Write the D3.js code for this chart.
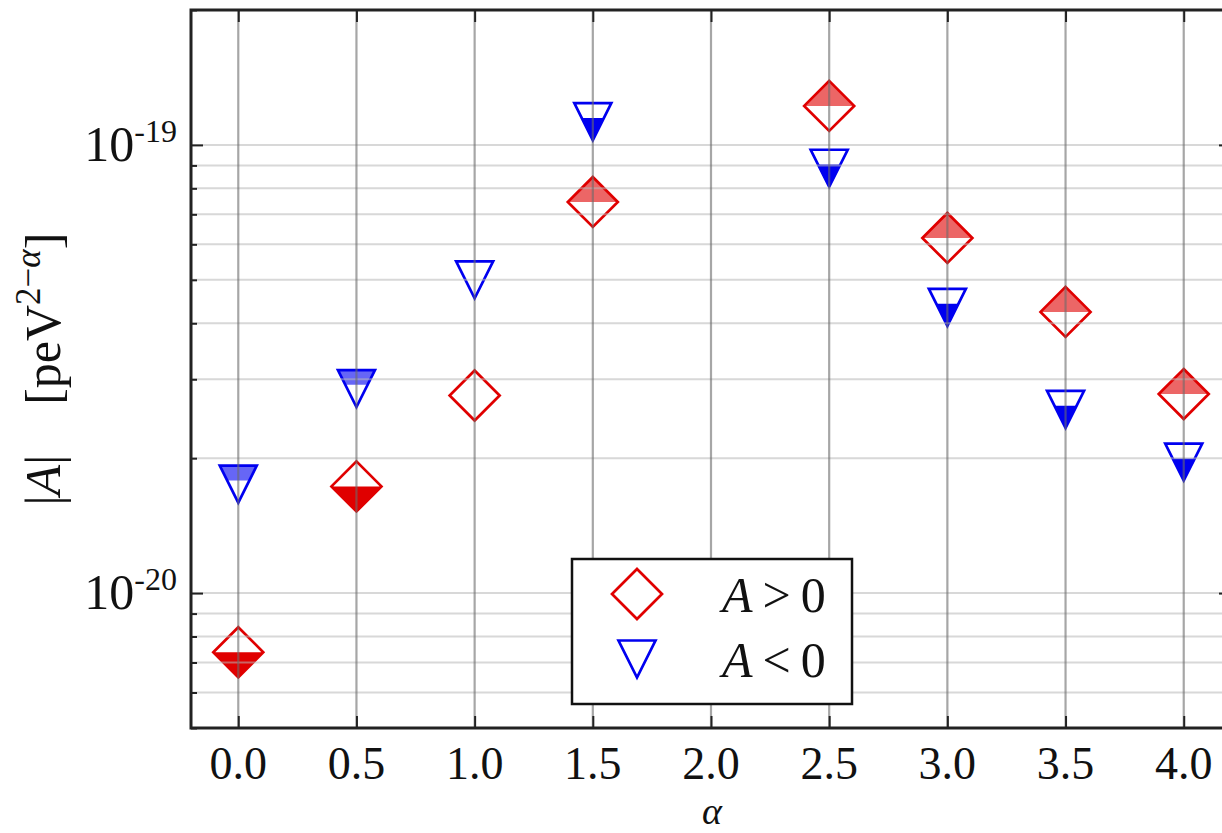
<!DOCTYPE html>
<html><head><meta charset="utf-8">
<script src="https://cdn.jsdelivr.net/npm/d3@7"></script>
<style>
body{margin:0;background:#fff;overflow:hidden}
text{font-family:"Liberation Serif","Times New Roman",serif;fill:#111}
</style>
</head><body><svg id="c" width="1222" height="833"></svg>
<script>
// ---- data ----
const alphas = [0.0, 0.5, 1.0, 1.5, 2.5, 3.0, 3.5, 4.0];
const posValues = [7.38e-21, 1.73e-20, 2.76e-20, 7.46e-20, 1.222e-19, 6.20e-20, 4.24e-20, 2.78e-20];
const negValues = [1.75e-20, 2.86e-20, 5.00e-20, 1.127e-19, 8.87e-20, 4.34e-20, 2.57e-20, 1.96e-20];
const posFill = ["bottom", "bottom", "none", "top", "top", "top", "top", "top"];
const negFill = ["top", "top", "none", "bottom", "bottom", "bottom", "bottom", "bottom"];
const xTicks = [0.0, 0.5, 1.0, 1.5, 2.0, 2.5, 3.0, 3.5, 4.0];
const xTickLabels = ["0.0", "0.5", "1.0", "1.5", "2.0", "2.5", "3.0", "3.5", "4.0"];
const yMajorTicks = [1e-20, 1e-19];
const yMajorExponents = ["-20", "-19"];
const legendLabels = [">", "<"];

const RED = "#e00000", BLUE = "#0000f0";
const svg = d3.select("#c");
const L = 191, R = 1231, T = 10, B = 728;
const x = d3.scaleLinear().domain([-0.2, 4.2]).range([L, R]);
const y = d3.scaleLog().domain([5e-21, 2e-19]).range([B, T]);

const plot = svg.append("g");

// ---- marker shapes (matplotlib-like half fills) ----
function diamond(cx, cy, r) { return `M${cx},${cy - r}L${cx + r},${cy}L${cx},${cy + r}L${cx - r},${cy}Z`; }
function diamondHalf(cx, cy, r, part) {
  return part === "top" ? `M${cx - r},${cy}L${cx},${cy - r}L${cx + r},${cy}Z`
                        : `M${cx - r},${cy}L${cx},${cy + r}L${cx + r},${cy}Z`;
}
function tri(cx, cy, s) { return `M${cx - s},${cy - s}L${cx + s},${cy - s}L${cx},${cy + s}Z`; }
function triHalf(cx, cy, s, part) {
  const ys = cy - 0.2 * s, w = 0.6 * s;
  return part === "top" ? `M${cx - s},${cy - s}L${cx + s},${cy - s}L${cx + w},${ys}L${cx - w},${ys}Z`
                        : `M${cx - w},${ys}L${cx + w},${ys}L${cx},${cy + s}Z`;
}
const DR = 25, TS = 18.5;

function drawSeries(vals, fills, color, shape, shapeHalf, size) {
  const g = plot.append("g");
  const pts = alphas.map((a, i) => ({cx: x(a), cy: y(vals[i]), f: fills[i]}));
  g.selectAll(".bg").data(pts).join("path")
    .attr("d", d => shape(d.cx, d.cy, size)).attr("fill", "#fff");
  g.selectAll(".fill").data(pts.filter(d => d.f !== "none")).join("path")
    .attr("d", d => shapeHalf(d.cx, d.cy, size, d.f))
    .attr("fill", color).attr("fill-opacity", d => d.f === "top" ? 0.6 : 1);
  g.selectAll(".edge").data(pts).join("path")
    .attr("d", d => shape(d.cx, d.cy, size))
    .attr("fill", "none").attr("stroke", color).attr("stroke-width", 2.7);
}
drawSeries(posValues, posFill, RED, diamond, diamondHalf, DR);
drawSeries(negValues, negFill, BLUE, tri, triHalf, TS);

// ---- grid (drawn above markers, as in the reference) ----
const grid = svg.append("g");
grid.selectAll(".hg").data(y.ticks()).join("line")
  .attr("x1", L).attr("x2", R).attr("y1", d => y(d)).attr("y2", d => y(d))
  .attr("stroke", "#b8b8b8").attr("stroke-opacity", 0.55).attr("stroke-width", 2);
grid.selectAll(".vg").data(xTicks).join("line")
  .attr("y1", T).attr("y2", B).attr("x1", d => x(d)).attr("x2", d => x(d))
  .attr("stroke", "#6a6a6a").attr("stroke-opacity", 0.6).attr("stroke-width", 2.2);

// ---- axes with inward ticks ----
const tickStyle = g => {
  g.select(".domain").remove();
  g.selectAll(".tick line").attr("stroke", "#222").attr("stroke-width", 2);
  g.selectAll(".tick text").remove();
};
svg.append("g").attr("transform", `translate(0,${B})`)
  .call(d3.axisBottom(x).tickValues(xTicks).tickSize(-12)).call(tickStyle);
svg.append("g").attr("transform", `translate(0,${T})`)
  .call(d3.axisTop(x).tickValues(xTicks).tickSize(-12)).call(tickStyle);
const minor = y.ticks().filter(v => !yMajorTicks.some(m => Math.abs(m - v) / m < 1e-6));
svg.append("g").attr("transform", `translate(${L},0)`)
  .call(d3.axisLeft(y).tickValues(yMajorTicks).tickSize(-12)).call(tickStyle);
svg.append("g").attr("transform", `translate(${L},0)`)
  .call(d3.axisLeft(y).tickValues(minor).tickSize(-6)).call(tickStyle);
svg.append("g").attr("transform", `translate(${R},0)`)
  .call(d3.axisRight(y).tickValues(yMajorTicks).tickSize(-12)).call(tickStyle);
svg.append("g").attr("transform", `translate(${R},0)`)
  .call(d3.axisRight(y).tickValues(minor).tickSize(-6)).call(tickStyle);

// frame
svg.append("rect").attr("x", L).attr("y", T).attr("width", R - L).attr("height", B - T)
  .attr("fill", "none").attr("stroke", "#222").attr("stroke-width", 3);

// tick labels
svg.append("g").selectAll("text").data(xTicks).join("text")
  .attr("x", d => x(d)).attr("y", 779).attr("text-anchor", "middle")
  .attr("font-size", 46).text((d, i) => xTickLabels[i]);
const yl = svg.append("g").selectAll("text").data(yMajorTicks).join("text")
  .attr("x", 177).attr("y", d => y(d) + 16).attr("text-anchor", "end").attr("font-size", 50);
yl.append("tspan").text("10");
yl.append("tspan").attr("font-size", 32).attr("dy", -19).text((d, i) => yMajorExponents[i]);

// axis titles
svg.append("text").attr("x", (L + R) / 2 + 1).attr("y", 824).attr("text-anchor", "middle")
  .attr("font-size", 38).attr("font-style", "italic").text("α");
const yt = svg.append("text").attr("transform", `translate(60,${(T + B) / 2}) rotate(-90)`)
  .attr("text-anchor", "middle").attr("font-size", 50);
yt.append("tspan").text("|");
yt.append("tspan").attr("font-style", "italic").text("A");
yt.append("tspan").text("|\u2002\u2002[peV");
yt.append("tspan").attr("font-size", 35).attr("dy", -20).text("2−");
yt.append("tspan").attr("font-size", 35).attr("font-style", "italic").text("α");
yt.append("tspan").attr("dy", 20).text("]");

// legend
const lg = svg.append("g");
lg.append("rect").attr("x", 572).attr("y", 559).attr("width", 280).attr("height", 145)
  .attr("fill", "#fff").attr("stroke", "#111").attr("stroke-width", 2.5);
lg.append("path").attr("d", diamond(637, 594, DR)).attr("fill", "none").attr("stroke", RED).attr("stroke-width", 2.7);
lg.append("path").attr("d", tri(637, 659, TS)).attr("fill", "none").attr("stroke", BLUE).attr("stroke-width", 2.7);
const lt = lg.selectAll(".lt").data(legendLabels).join("text")
  .attr("x", 722).attr("y", (d, i) => 612 + i * 65).attr("font-size", 50);
lt.append("tspan").attr("font-style", "italic").text("A");
lt.append("tspan").attr("dx", 10).text(d => d);
lt.append("tspan").attr("dx", 10).text("0");
</script></body></html>
